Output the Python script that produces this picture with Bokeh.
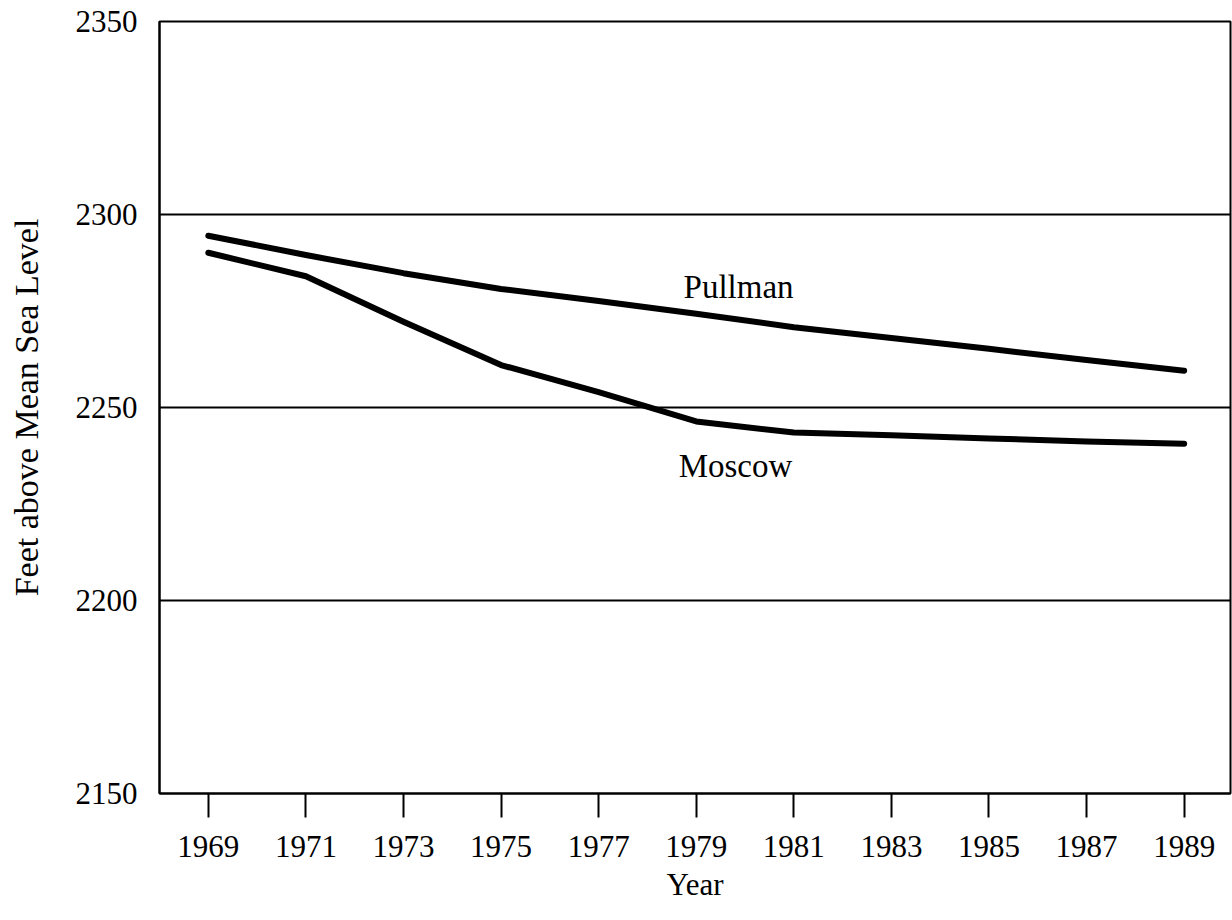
from bokeh.plotting import figure
from bokeh.models import Label, FixedTicker, Range1d
from bokeh.embed import file_html
from bokeh.resources import INLINE

years = [1969, 1971, 1973, 1975, 1977, 1979, 1981, 1983, 1985, 1987, 1989]
pullman = [2294.5, 2289.5, 2284.8, 2280.7, 2277.6, 2274.3, 2270.8, 2268.0, 2265.2, 2262.3, 2259.5]
moscow = [2290.1, 2284.0, 2272.2, 2261.0, 2254.0, 2246.4, 2243.5, 2242.8, 2242.0, 2241.2, 2240.6]
x_ticks = years
y_ticks = [2150, 2200, 2250, 2300, 2350]

FONT = "Liberation Serif"

p = figure(width=1232, height=904, output_backend="svg", toolbar_location=None,
           x_range=Range1d(1968, 1989.95), y_range=Range1d(2150, 2350),
           min_border_left=159, min_border_top=21, min_border_right=2, min_border_bottom=111)

p.background_fill_color = "white"
p.border_fill_color = "white"
p.outline_line_color = "black"
p.outline_line_width = 2

p.line(years, pullman, line_color="black", line_width=6, line_cap="round", line_join="round")
p.line(years, moscow, line_color="black", line_width=6, line_cap="round", line_join="round")

# grid
p.xgrid.grid_line_color = None
p.ygrid.ticker = FixedTicker(ticks=[2200, 2250, 2300])
p.ygrid.grid_line_color = "black"
p.ygrid.grid_line_width = 2

# x axis
xa = p.xaxis[0]
xa.ticker = FixedTicker(ticks=x_ticks)
xa.axis_line_color = "black"
xa.axis_line_width = 2
xa.major_tick_line_color = "black"
xa.major_tick_line_width = 2
xa.major_tick_out = 24
xa.major_tick_in = 0
xa.minor_tick_line_color = None
xa.major_label_standoff = 18
xa.major_label_text_font = FONT
xa.major_label_text_font_size = "31px"
xa.major_label_text_color = "black"
xa.axis_label = "Year"
xa.axis_label_text_font = FONT
xa.axis_label_text_font_size = "31px"
xa.axis_label_text_font_style = "normal"
xa.axis_label_text_color = "black"
xa.axis_label_standoff = 7

# y axis
ya = p.yaxis[0]
ya.ticker = FixedTicker(ticks=y_ticks)
ya.axis_line_color = "black"
ya.axis_line_width = 2
ya.major_tick_line_color = None
ya.major_tick_out = 0
ya.major_tick_in = 0
ya.minor_tick_line_color = None
ya.major_label_standoff = 22
ya.major_label_text_font = FONT
ya.major_label_text_font_size = "31px"
ya.major_label_text_color = "black"
ya.axis_label = "Feet above Mean Sea Level"
ya.axis_label_text_font = FONT
ya.axis_label_text_font_size = "34px"
ya.axis_label_text_font_style = "normal"
ya.axis_label_text_color = "black"
ya.axis_label_standoff = 28

p.add_layout(Label(x=1978.74, y=2281.2, text="Pullman", text_font=FONT,
                   text_font_size="33px", text_color="black", text_baseline="alphabetic"))
p.add_layout(Label(x=1978.64, y=2234.8, text="Moscow", text_font=FONT,
                   text_font_size="33px", text_color="black", text_baseline="alphabetic"))

open("out.html", "w").write(file_html(p, INLINE))
